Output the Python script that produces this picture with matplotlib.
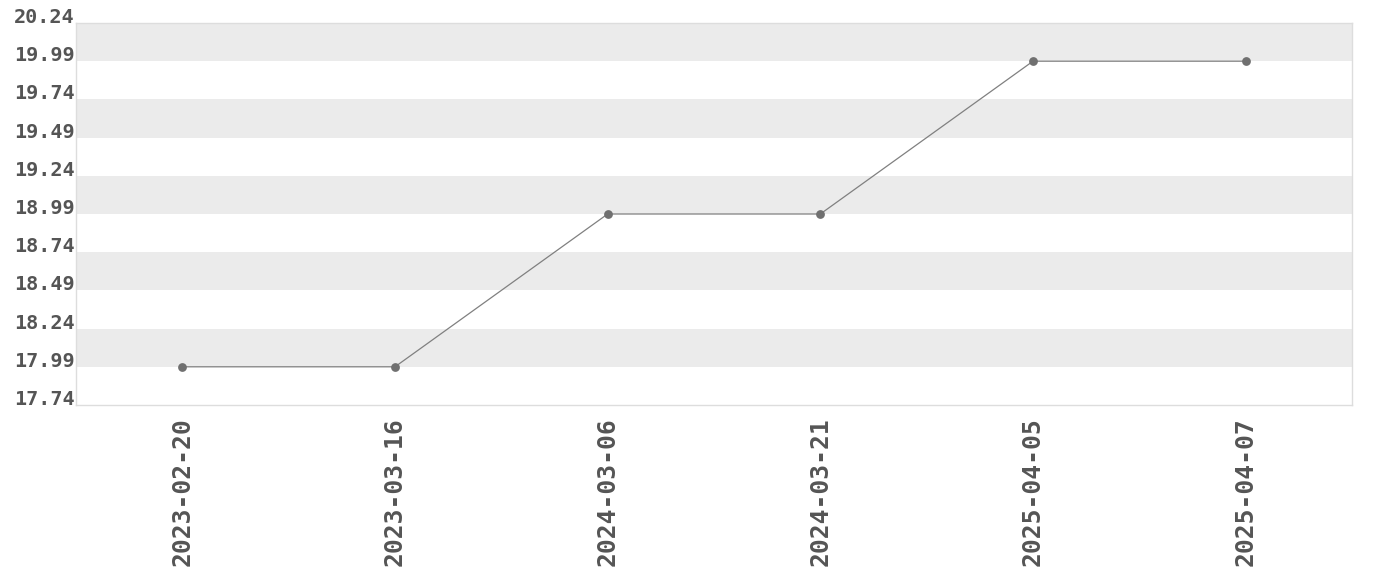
import matplotlib
matplotlib.use("Agg")
import matplotlib.pyplot as plt
from matplotlib.font_manager import FontProperties
import numpy as np

datas = ["2023-02-20", "2023-03-16", "2024-03-06", "2024-03-21", "2025-04-05", "2025-04-07"]
precos = [17.99, 17.99, 18.99, 18.99, 19.99, 19.99]
y_ticks = [17.74, 17.99, 18.24, 18.49, 18.74, 18.99, 19.24, 19.49, 19.74, 19.99, 20.24]

fig = plt.figure(figsize=(13.8, 5.8), dpi=100)
ax = fig.add_axes([76 / 1380, 1 - 405 / 580, 1276 / 1380, 382 / 580])

x = np.arange(len(datas))

# faixas alternadas de fundo
for i in range(len(y_ticks) - 1):
    if i % 2 == 1:
        ax.axhspan(y_ticks[i], y_ticks[i + 1], color="#ebebeb", zorder=0, linewidth=0)

ax.plot(x, precos, color="#808080", linewidth=0.9, zorder=2)
ax.scatter(x, precos, s=40, color="#707070", zorder=3, linewidths=0)

ax.set_xlim(-0.5, len(datas) - 0.5)
ax.set_ylim(y_ticks[0], y_ticks[-1])
ax.set_yticks(y_ticks)
ax.set_yticklabels([f"{v:.2f}" for v in y_ticks])
ax.set_xticks(x)
ax.set_xticklabels(datas, rotation=90)

for lbl in ax.get_yticklabels():
    lbl.set_fontproperties(FontProperties(family="DejaVu Sans Mono", weight="bold", size=14.5))
    lbl.set_color("#555555")
    lbl.set_verticalalignment("baseline")
for lbl in ax.get_xticklabels():
    lbl.set_fontproperties(FontProperties(family="DejaVu Sans Mono", weight="bold", size=17.7))
    lbl.set_color("#555555")

ax.tick_params(axis="both", length=0)
ax.tick_params(axis="y", pad=1)
ax.tick_params(axis="x", pad=9)
for s in ax.spines.values():
    s.set_color("#dddddd")
    s.set_linewidth(1)

fig.savefig("out.png", dpi=100)
